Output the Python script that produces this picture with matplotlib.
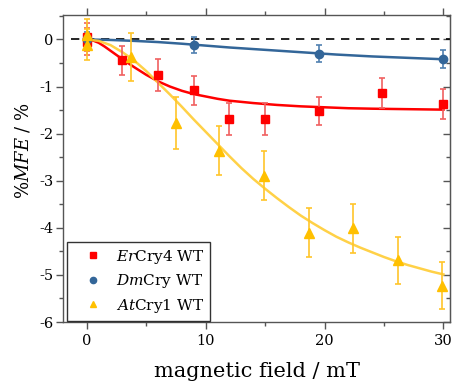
import matplotlib
matplotlib.use("Agg")
import matplotlib.pyplot as plt
from matplotlib.ticker import MultipleLocator

# ---- data ----
er_x = [0, 0, 3, 6, 9, 12, 15, 19.5, 24.8, 30]
er_y = [0.05, -0.05, -0.44, -0.75, -1.08, -1.69, -1.69, -1.52, -1.13, -1.37]
er_err = [0.29, 0.29, 0.31, 0.34, 0.31, 0.34, 0.34, 0.29, 0.32, 0.32]

dm_x = [0, 9, 19.5, 30]
dm_y = [0.0, -0.11, -0.30, -0.42]
dm_err = [0.15, 0.17, 0.18, 0.19]

at_x = [0, 0, 3.7, 7.5, 11.15, 14.9, 18.65, 22.4, 26.15, 29.85]
at_y = [0.10, -0.11, -0.38, -1.77, -2.36, -2.89, -4.10, -4.01, -4.69, -5.23]
at_err = [0.33, 0.33, 0.51, 0.55, 0.52, 0.52, 0.52, 0.52, 0.50, 0.50]

# fitted curves
er_fit_x = [0, 0.5, 1, 1.5, 2, 2.5, 3, 4, 5, 6, 7, 8, 9, 10, 11, 12, 14, 16,
            18, 20, 22, 24, 27, 30]
er_fit_y = [0, -0.02, -0.07, -0.15, -0.24, -0.33, -0.42, -0.59, -0.75, -0.89,
            -1.00, -1.09, -1.16, -1.21, -1.26, -1.30, -1.35, -1.39, -1.42,
            -1.44, -1.46, -1.47, -1.48, -1.49]

dm_fit_x = [0, 2, 4, 6, 8, 10, 12, 15, 18, 21, 24, 27, 30]
dm_fit_y = [0, -0.01, -0.03, -0.055, -0.09, -0.13, -0.17, -0.22, -0.27,
            -0.32, -0.36, -0.39, -0.42]

at_fit_x = [0, 1, 2, 3, 4, 5, 6, 7, 8, 9, 10, 11, 12, 13, 14, 15, 16, 17, 18,
            19, 20, 21, 22, 23, 24, 25, 26, 27, 28, 29, 30]
at_fit_y = [0, -0.03, -0.12, -0.27, -0.45, -0.67, -0.92, -1.17, -1.43, -1.70,
            -1.96, -2.22, -2.48, -2.73, -2.96, -3.17, -3.37, -3.56, -3.74,
            -3.90, -4.05, -4.19, -4.31, -4.42, -4.52, -4.62, -4.71, -4.79,
            -4.86, -4.93, -4.99]

labels = [r"$\mathit{Er}$Cry4 WT", r"$\mathit{Dm}$Cry WT", r"$\mathit{At}$Cry1 WT"]
x_ticks = [0, 10, 20, 30]
y_ticks = [0, -1, -2, -3, -4, -5, -6]

# ---- style ----
plt.rcParams["font.family"] = ["DejaVu Serif"]
plt.rcParams["mathtext.fontset"] = "dejavuserif"

RED = "#FF0000"
BLUE = "#336699"
YEL = "#FFC000"
SPINE = "#555555"

fig = plt.figure(figsize=(4.54, 3.87), dpi=100)
ax = fig.add_axes([63 / 454, 1 - 322 / 387, (450 - 63) / 454, (322 - 15) / 387])

ax.hlines(0, -1.35, 30.55, color="black", lw=1.2, ls=(0, (5, 4)), zorder=1)

# fit curves
ax.plot(er_fit_x, er_fit_y, color=RED, lw=1.8, zorder=2)
ax.plot(dm_fit_x, dm_fit_y, color=BLUE, lw=1.8, zorder=2)
ax.plot(at_fit_x, at_fit_y, color="#FFCC33", lw=1.8, zorder=2, alpha=0.9)

# data points
kw = dict(ls="none", capsize=2.5, elinewidth=1.2, capthick=1.2, zorder=3)
ax.errorbar(er_x, er_y, yerr=er_err, marker="s", ms=5.5, color=RED,
            ecolor="#F06060", **kw)
ax.errorbar(dm_x, dm_y, yerr=dm_err, marker="o", ms=6, color=BLUE,
            ecolor="#5080B0", **kw)
ax.errorbar(at_x, at_y, yerr=at_err, marker="^", ms=7, color=YEL,
            ecolor="#FFC52A", **kw)

# legend handles (markers only)
h1, = ax.plot([], [], "s", color=RED, ms=4)
h2, = ax.plot([], [], "o", color=BLUE, ms=4.5)
h3, = ax.plot([], [], "^", color=YEL, ms=5)
leg = ax.legend([h1, h2, h3], labels, loc="lower left",
                bbox_to_anchor=(0.01, 0.004), borderaxespad=0,
                fontsize=11, frameon=True, fancybox=False, edgecolor="black",
                handletextpad=0.2, borderpad=0.4, labelspacing=0.42,
                handlelength=2.6)
leg.get_frame().set_linewidth(1.0)

ax.set_xlim(-2, 30.55)
ax.set_ylim(-6, 0.52)
ax.set_xticks(x_ticks)
ax.set_yticks(y_ticks)
ax.set_yticklabels([str(v) for v in y_ticks])
ax.xaxis.set_minor_locator(MultipleLocator(5))
ax.yaxis.set_minor_locator(MultipleLocator(0.5))

for s in ax.spines.values():
    s.set_color(SPINE)
    s.set_linewidth(1.0)

ax.tick_params(which="both", direction="out", colors=SPINE, labelcolor="black",
               labelsize=10.5, top=True, right=False, width=1.0)
ax.tick_params(which="major", length=5)
ax.tick_params(which="minor", length=3)
ax.tick_params(axis="y", pad=2)

sec = ax.secondary_yaxis("right")
sec.set_yticks(y_ticks)
sec.yaxis.set_minor_locator(MultipleLocator(0.5))
sec.tick_params(which="both", direction="in", colors=SPINE, labelright=False,
                width=1.0)
sec.tick_params(which="major", length=5)
sec.tick_params(which="minor", length=3)
sec.spines["right"].set_color(SPINE)

ax.set_xlabel("magnetic field / mT", fontsize=15, labelpad=10)
ax.set_ylabel(r"%$\mathit{MFE}$ / %", fontsize=13)
ax.yaxis.set_label_coords(-0.08, 0.557)

fig.savefig("out.png", dpi=100)
